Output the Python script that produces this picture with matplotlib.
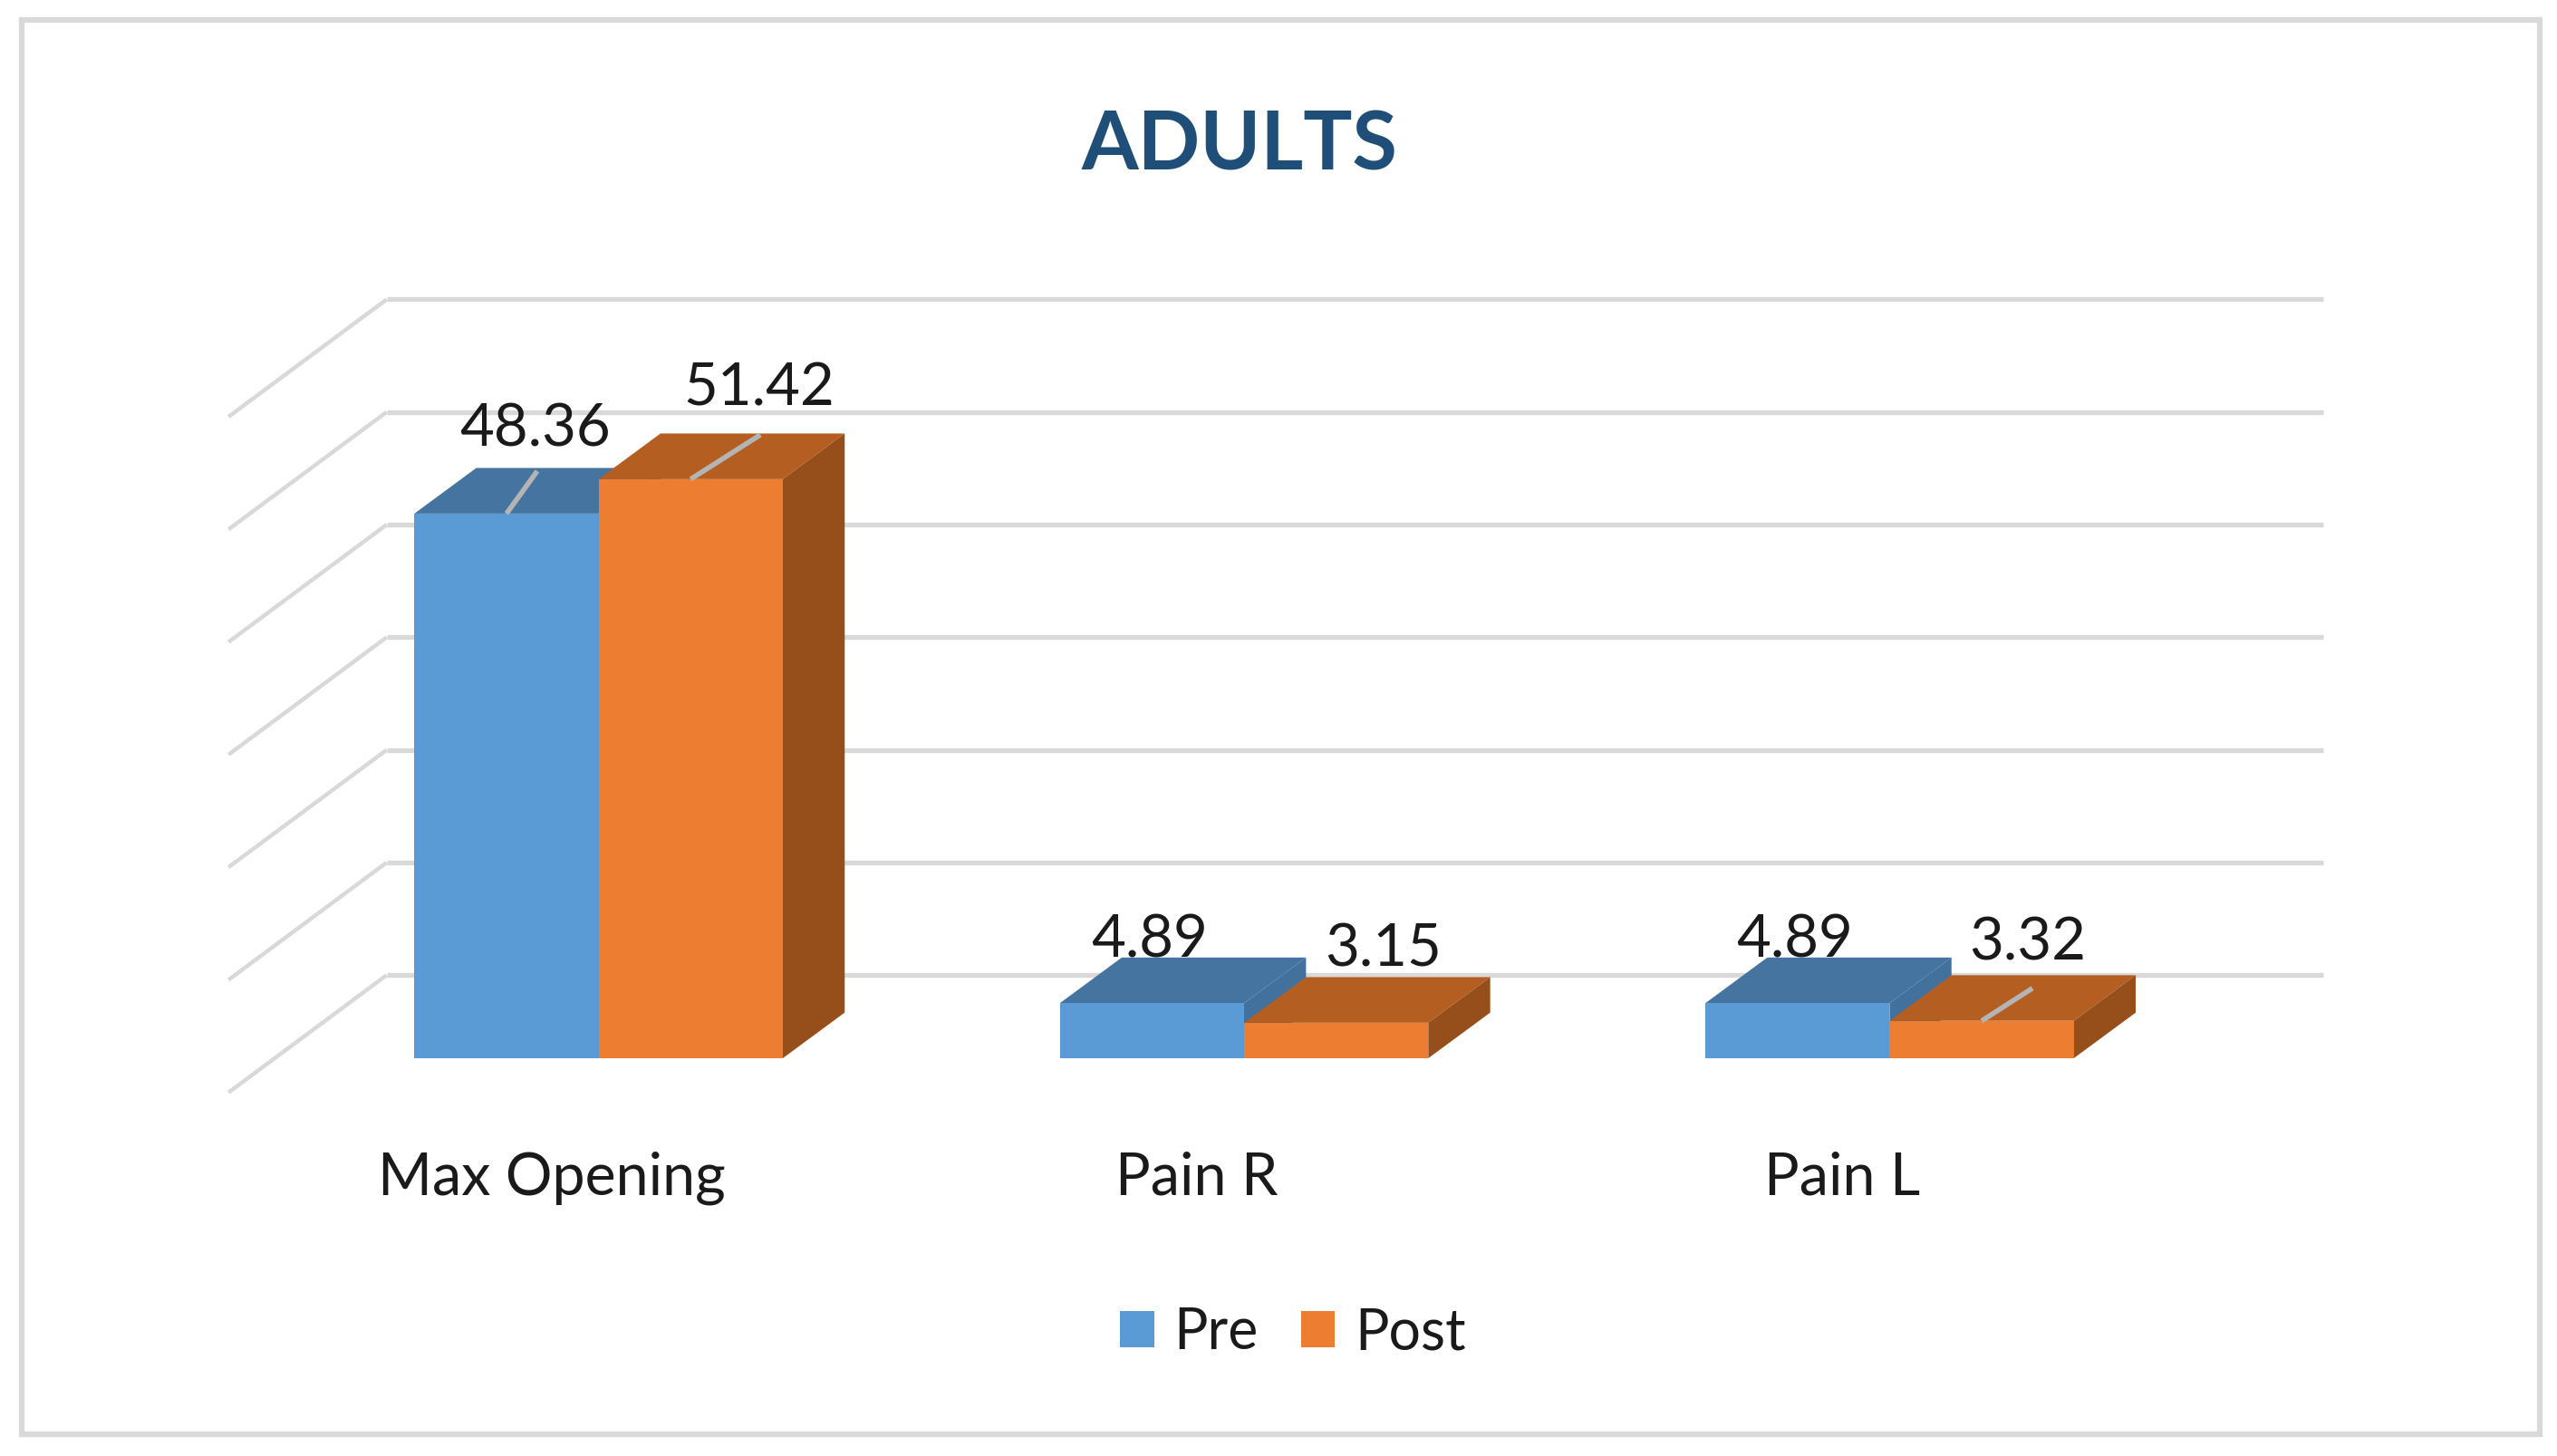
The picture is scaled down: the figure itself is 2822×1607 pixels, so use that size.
import matplotlib
matplotlib.use("Agg")
import matplotlib.pyplot as plt
from matplotlib.patches import Patch, Polygon, Rectangle

categories = ["Max Opening", "Pain R", "Pain L"]
pre_values = [48.36, 4.89, 4.89]
post_values = [51.42, 3.15, 3.32]
grid_values = [0, 10, 20, 30, 40, 50, 60]

# label offset from the top of each bar, in pixels
pre_label_off = [(32, 93), (-3, 69), (-3, 69)]
post_label_off = [(76, 100), (52, 81), (51, 86)]
# grey leader lines: series index, category index, end offset in pixels
leaders = [(0, 0, 34, 47), (1, 0, 77, 49), (1, 2, 56, 36)]

BLUE = ["#5B9BD5", "#44749F", "#41719C"]
ORANGE = ["#ED7D31", "#B55E22", "#964F1B"]
GREY = "#D9D9D9"

W, H = 2822, 1607
PX_X = 712.4    # pixels per category
PX_Y = 12.43    # pixels per unit
X0, Y0 = 660.6, 1168
BAR_W = 113 / 396
DEPTH_X = 38 / 396
DEPTH_Y = 28 / 6.906

plt.rcParams["font.family"] = ["Lato", "DejaVu Sans"]

fig = plt.figure(figsize=(W / 100, H / 100), dpi=100, facecolor="white")
ax = fig.add_axes([0, 0, 1, 1])
ax.set_xlim(-X0 / PX_X, (W - X0) / PX_X)
ax.set_ylim((Y0 - H) / PX_Y, Y0 / PX_Y)
ax.axis("off")

# outer frame
ax.add_patch(Rectangle((24 / W, 1 - 1583 / H), (2803 - 24) / W, (1583 - 22) / H,
                       transform=ax.transAxes, fill=False, edgecolor=GREY, linewidth=4.5))

# walls
wall_back = -130 / 396
wall_front = -227 / 396
wall_right = 1058 / 396
for v in grid_values:
    ax.plot([wall_front, wall_back], [v - 3.04, v + 7.38], color=GREY, lw=3.2,
            solid_capstyle="butt", zorder=1)
    ax.plot([wall_back, wall_right], [v + 7.38, v + 7.38], color=GREY, lw=3.8,
            solid_capstyle="butt", zorder=1)


def draw_bar(x, h, cols, z):
    ax.bar(x, h, BAR_W, align="edge", color=cols[0], linewidth=0, zorder=z + 0.2)
    top = [(x, h), (x + DEPTH_X, h + DEPTH_Y), (x + BAR_W + DEPTH_X, h + DEPTH_Y), (x + BAR_W, h)]
    side = [(x + BAR_W, 0), (x + BAR_W + DEPTH_X, DEPTH_Y), (x + BAR_W + DEPTH_X, h + DEPTH_Y), (x + BAR_W, h)]
    ax.add_patch(Polygon(top, closed=True, facecolor=cols[1], linewidth=0, zorder=z))
    ax.add_patch(Polygon(side, closed=True, facecolor=cols[2], linewidth=0, zorder=z))


for i in range(len(categories)):
    draw_bar(i - BAR_W, pre_values[i], BLUE, 3)
    draw_bar(i, post_values[i], ORANGE, 4)
    ax.annotate(f"{pre_values[i]:.2f}", (i - BAR_W / 2, pre_values[i]), xytext=pre_label_off[i],
                textcoords="offset pixels", ha="center", va="center", fontsize=47, color="#1A1A1A", zorder=6)
    ax.annotate(f"{post_values[i]:.2f}", (i + BAR_W / 2, post_values[i]), xytext=post_label_off[i],
                textcoords="offset pixels", ha="center", va="center", fontsize=47, color="#1A1A1A", zorder=6)
    ax.text(i - 0.073, (649 - 722.5) / 6.906, categories[i], ha="center", va="center",
            fontsize=46.5, color="#1A1A1A", zorder=6)

for s, c, dx, dy in leaders:
    vals = pre_values if s == 0 else post_values
    x = c - BAR_W / 2 if s == 0 else c + BAR_W / 2
    ax.plot([x, x + dx / PX_X], [vals[c], vals[c] + dy / PX_Y], color="#B4B4B4", lw=4,
            solid_capstyle="butt", zorder=5)

ax.text(1368 / W, 1 - 161 / H, "ADULTS", transform=ax.transAxes, ha="center", va="center",
        fontsize=65, fontweight="bold", color="#1F4E79")

handles = [Patch(facecolor=BLUE[0], label="Pre"), Patch(facecolor=ORANGE[0], label="Post")]
ax.legend(handles=handles, loc="center", bbox_to_anchor=(1427 / W, 1 - 1471 / H), ncol=2,
          frameon=False, fontsize=45, handlelength=0.6, handleheight=0.6, handletextpad=0.35,
          columnspacing=0.75, labelcolor="#1A1A1A")

fig.savefig("out.png", dpi=100)
